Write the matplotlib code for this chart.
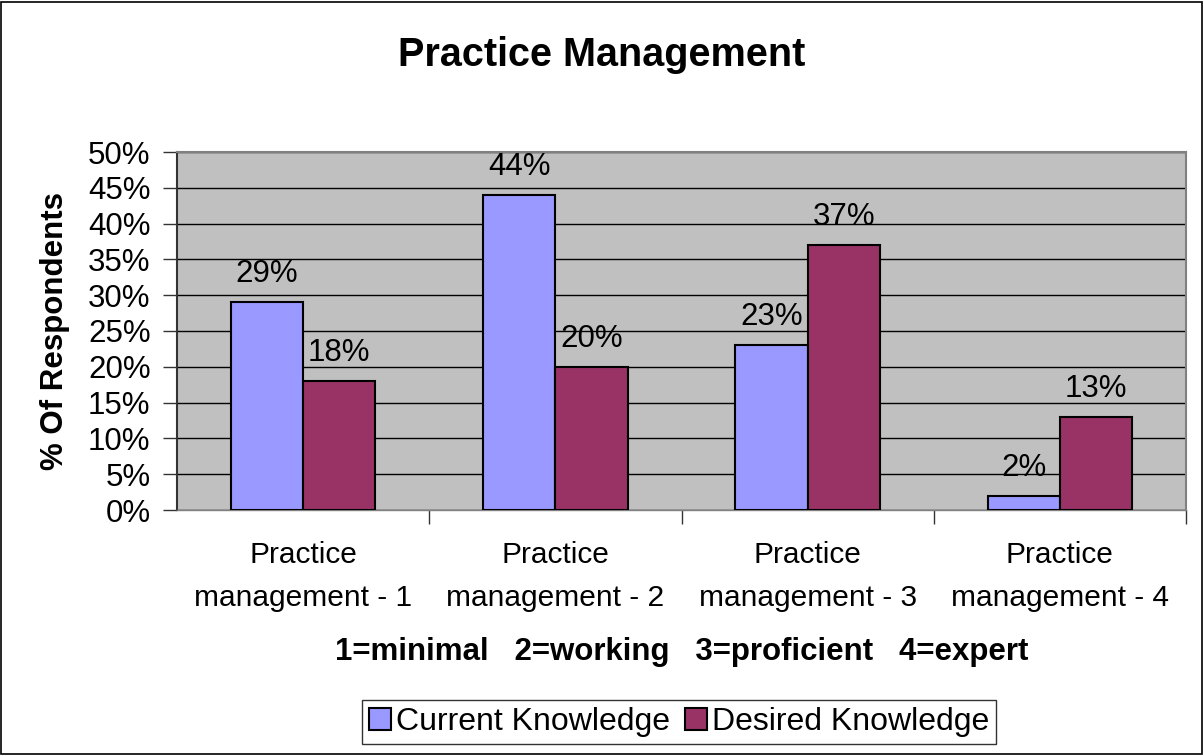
import matplotlib
matplotlib.use("Agg")
import matplotlib.pyplot as plt
import numpy as np
from matplotlib.patches import Rectangle

plt.rcParams['font.family'] = ['Liberation Sans', 'DejaVu Sans']

categories = ["Practice\nmanagement - 1", "Practice\nmanagement - 2",
              "Practice\nmanagement - 3", "Practice\nmanagement - 4"]
current = [29, 44, 23, 2]
desired = [18, 20, 37, 13]
series_names = ["Current Knowledge", "Desired Knowledge"]
yticks = [0, 5, 10, 15, 20, 25, 30, 35, 40, 45, 50]

W, H = 1204, 755
fig = plt.figure(figsize=(W / 100, H / 100), dpi=100)
ax = fig.add_axes([177 / W, 1 - 510 / H, (1186 - 177) / W, (510 - 152) / H])

# figure border
fig.patches.append(Rectangle((1 / W, 1 / H), 1 - 3 / W, 1 - 3 / H, transform=fig.transFigure,
                             fill=False, edgecolor='black', linewidth=1.2))

x = np.arange(len(categories))
bw = 0.286
ax.set_facecolor('#C0C0C0')
b1 = ax.bar(x - bw / 2, current, bw, color='#9999FF', edgecolor='black', linewidth=1.5,
            label=series_names[0], zorder=3)
b2 = ax.bar(x + bw / 2, desired, bw, color='#993366', edgecolor='black', linewidth=1.5,
            label=series_names[1], zorder=3)

for xs, vals in ((x - bw / 2, current), (x + bw / 2, desired)):
    for xi, v in zip(xs, vals):
        ax.text(xi, v + 1.8, f"{v}%", ha='center', va='bottom', fontsize=22.5, zorder=4)

ax.set_xlim(-0.5, 3.5)
ax.set_ylim(0, 50)
ax.set_yticks(yticks)
ax.set_yticklabels([f"{t}%" for t in yticks], fontsize=22.5)
ax.yaxis.grid(True, color='black', linewidth=1.0, zorder=1)
ax.set_axisbelow(True)
ax.tick_params(axis='y', direction='out', length=10, width=1, color='#333333', pad=9)

ax.set_xticks(x)
ax.set_xticklabels(categories, fontsize=21.5, linespacing=1.7)
ax.tick_params(axis='x', length=0, pad=22)
ax.set_xticks([0.5, 1.5, 2.5, 3.5], minor=True)
ax.tick_params(axis='x', which='minor', direction='out', length=10, width=1, color='#333333')

for s in ('top', 'right'):
    ax.spines[s].set_color('#808080')
    ax.spines[s].set_linewidth(1.5)
ax.spines['left'].set_color('#333333')
ax.spines['left'].set_linewidth(1.5)
ax.spines['bottom'].set_color('#808080')
ax.spines['bottom'].set_linewidth(1.0)

ax.set_ylabel("% Of Respondents", fontsize=22.5, fontweight='bold', labelpad=13)
ax.set_xlabel("1=minimal   2=working   3=proficient   4=expert", fontsize=22.5,
              fontweight='bold', labelpad=18)

fig.suptitle("Practice Management", fontsize=28.5, fontweight='bold', y=1 - 55 / H, va='center')

leg = fig.legend(handles=[b1, b2], loc='center', bbox_to_anchor=(679 / W, 1 - 722 / H),
                 ncol=2, fontsize=23, frameon=True, fancybox=False, edgecolor='black',
                 handlelength=0.7, handleheight=0.7, handletextpad=0.15, columnspacing=0.45,
                 borderpad=0.22, borderaxespad=0)
leg.get_frame().set_linewidth(1.0)

fig.savefig("out.png", dpi=100)
